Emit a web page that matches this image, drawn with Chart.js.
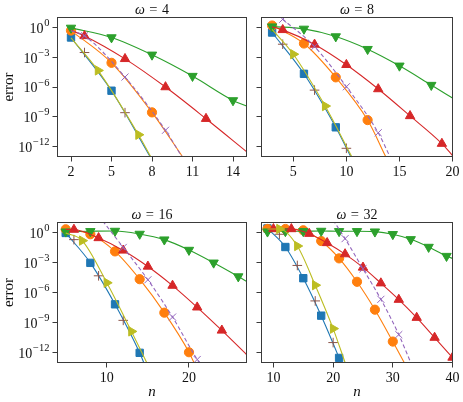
<!DOCTYPE html>
<html>
<head>
<meta charset="utf-8">
<script src="https://cdn.jsdelivr.net/npm/chart.js@4.4.0/dist/chart.umd.min.js"></script>
<style>
  html, body { margin: 0; padding: 0; background: #fff; }
  #wrap { position: relative; width: 463px; height: 402px; }
  #wrap canvas { position: absolute; left: 0; top: 0; }
</style>
</head>
<body>
<div id="wrap">
  <canvas id="c4" width="463" height="402"></canvas>
  <canvas id="c8" width="463" height="402"></canvas>
  <canvas id="c16" width="463" height="402"></canvas>
  <canvas id="c32" width="463" height="402"></canvas>
</div>
<script>
// values are log10(error), as [n, log10 error]
// series order: blue, orange, green, red, purple, brown, olive

// omega = 4
const w4Blue   = [[2, -0.97], [5, -6.35], [7.85, -13]];
const w4Orange = [[2, -0.27], [5, -3.53], [8, -8.54], [10.25, -13]];
const w4Green  = [[2, 0], [5, -0.97], [8, -2.72], [11, -4.87], [14, -7.33], [15, -7.9]];
const w4Red    = [[2, -0.25], [3, -0.81], [6, -3.13], [9, -5.98], [12, -9.18], [15, -12.5]];
const w4Purple = [[2, -0.3], [3, -0.8], [6, -4.97], [9, -10.35], [10.2, -13]];
const w4Brown  = [[3, -2.49], [6, -8.57]];
const w4Olive  = [[2, -1.0], [4, -4.3], [7, -10.8], [7.9, -13]];
const w4Marks  = [[2, 5], [2, 5, 8], [2, 5, 8, 11, 14], [3, 6, 9, 12], [3, 6, 9], [3, 6], [4, 7]];

// omega = 8
const w8Blue   = [[3, -0.47], [6, -4.64], [9, -10.05], [10.4, -13]];
const w8Orange = [[3, 0.24], [6, -1.58], [9, -5.0], [12, -9.32], [13.7, -13]];
const w8Green  = [[3, 0.13], [6, -0.1], [9, -0.87], [12, -2.15], [15, -3.83], [18, -5.78], [20, -7.09]];
const w8Red    = [[3, 0.1], [4, -0.2], [7, -1.68], [10, -3.73], [13, -6.18], [16, -8.9], [19, -11.7], [20, -12.9]];
const w8Purple = [[3.5, 1.3], [4, 0.87], [7, -1.9], [10, -5.95], [13, -10.6], [14.1, -13]];
const w8Brown  = [[4, -1.65], [7, -6.29], [10, -12.17]];
const w8Olive  = [[3, -0.15], [5, -2.66], [8, -7.9], [10.5, -13]];
const w8Marks  = [[3, 6, 9], [3, 6, 9, 12], [3, 6, 9, 12, 15, 18], [4, 7, 10, 13, 16, 19], [4, 7, 10, 13], [4, 7, 10], [5, 8]];

// omega = 16
const w16Blue   = [[5, 0], [8, -3.0], [11, -7.16], [14, -12.03], [14.5, -13]];
const w16Orange = [[5, 0.37], [8, -0.13], [11, -1.85], [14, -4.64], [17, -8.0], [20, -11.97], [20.6, -13]];
const w16Green  = [[5, 0.13], [8, 0.17], [11, 0.2], [14, -0.1], [17, -0.67], [20, -1.71], [23, -2.99], [26, -4.37], [27, -4.85]];
const w16Red    = [[5, 0.35], [6, 0.34], [9, -0.5], [12, -1.75], [15, -3.36], [18, -5.28], [21, -7.46], [24, -9.78], [27, -12.2]];
const w16Purple = [[9.5, 1.2], [12, -1.45], [15, -4.7], [18, -8.44], [21, -12.7], [21.25, -13]];
const w16Brown  = [[6, -0.67], [9, -4.3], [12, -8.77]];
const w16Olive  = [[5, 0], [7, -0.77], [10, -5.0], [13, -9.88], [14.85, -13]];
const w16Marks  = [[5, 8, 11, 14], [5, 8, 11, 14, 17, 20], [5, 8, 11, 14, 17, 20, 23, 26], [6, 9, 12, 15, 18, 21, 24], [12, 15, 18, 21], [6, 9, 12], [7, 10, 13]];

// omega = 32
const w32Blue   = [[9, 0.45], [12, -1.41], [15, -4.54], [18, -8.3], [21, -12.54], [21.3, -13]];
const w32Orange = [[9, 0.4], [12, 0.4], [15, 0.27], [18, -0.81], [21, -2.55], [24, -4.9], [27, -7.7], [30, -10.9], [31.9, -13]];
const w32Green  = [[9, 0.13], [12, 0.17], [15, 0.17], [18, 0.2], [21, 0.17], [24, 0.17], [27, 0.13], [30, -0.13], [33, -0.64], [36, -1.41], [39, -2.32], [40, -2.55]];
const w32Red    = [[9, 0.4], [10, 0.4], [13, 0.4], [16, -0.07], [19, -1.0], [22, -2.12], [25, -3.46], [28, -5.04], [31, -6.69], [34, -8.5], [37, -10.5], [40, -12.5]];
const w32Purple = [[20, 1.3], [22, -0.57], [25, -3.6], [28, -6.66], [31, -10.2], [33, -13]];
const w32Brown  = [[11, -0.13], [14, -3.26], [17, -6.82], [20, -11.0]];
const w32Olive  = [[9, 0.4], [11, 0.4], [14, -1.31], [17, -5.24], [20, -9.6], [22, -13]];
const w32Marks  = [[9, 12, 15, 18, 21], [9, 12, 15, 18, 21, 24, 27, 30], [9, 12, 15, 18, 21, 24, 27, 30, 33, 36, 39], [10, 13, 16, 19, 22, 25, 28, 31, 34, 37, 40], [22, 25, 28, 31], [11, 14, 17, 20], [11, 14, 17, 20]];

// tick labels
const xTicks4 = [2, 5, 8, 11, 14];
const xTicks8 = [5, 10, 15, 20];
const xTicks16 = [10, 20];
const xTicks32 = [10, 20, 30, 40];
const yTickExp = [0, -3, -6, -9, -12];

const SERIF = "'Liberation Serif', 'DejaVu Serif', serif";
const colors = ['#1f77b4', '#ff7f0e', '#2ca02c', '#d62728', '#9467bd', '#8c564b', '#bcbd22'];
const markers = [
  {style: 'rect', r: 5.2},
  {style: 'circle', r: 4.6},
  {style: 'triangle', r: 5.4, rot: 180},
  {style: 'triangle', r: 5.4},
  {style: 'crossRot', r: 5, dash: [4, 2.5]},
  {style: 'cross', r: 4.8, noLine: true},
  {style: 'triangle', r: 5.4, rot: 90}
];

// frame, titles and superscript tick labels
const frame = {
  id: 'frame',
  afterDraw(chart, args, o) {
    const {ctx, chartArea: a} = chart;
    ctx.save();
    ctx.strokeStyle = '#3a3a3a';
    ctx.lineWidth = 1;
    ctx.strokeRect(a.left, a.top, a.right - a.left, a.bottom - a.top);
    ctx.fillStyle = '#111';
    const cx = (a.left + a.right) / 2;

    // title: ω = k, with TeX-like spacing round the equals sign
    const parts = [['italic 14px ', '\u03c9'], ['14.5px ', '='], ['14px ', String(o.omega)]];
    const gap = 4.5;
    const widths = parts.map(p => { ctx.font = p[0] + SERIF; return ctx.measureText(p[1]).width; });
    let x = cx - (widths[0] + widths[1] + widths[2] + 2 * gap) / 2;
    ctx.textAlign = 'left';
    ctx.textBaseline = 'alphabetic';
    parts.forEach((p, i) => {
      ctx.font = p[0] + SERIF;
      ctx.fillText(p[1], x, a.top - 3.5);
      x += widths[i] + gap;
    });

    if (o.yLabels) {
      const ys = chart.scales.y;
      yTickExp.forEach(e => {
        const py = ys.getPixelForValue(Math.pow(10, e));
        const xr = a.left - 8;
        const sup = e === 0 ? '0' : '\u2212' + (-e);
        ctx.textAlign = 'right';
        ctx.font = '10.5px ' + SERIF;
        const ws = ctx.measureText(sup).width;
        ctx.fillText(sup, xr, py - 1.5);
        ctx.font = '14px ' + SERIF;
        ctx.fillText('10', xr - ws - 0.8, py + 5);
      });
      ctx.save();
      ctx.translate(9, (a.top + a.bottom) / 2);
      ctx.rotate(-Math.PI / 2);
      ctx.textAlign = 'center';
      ctx.textBaseline = 'middle';
      ctx.font = '15px ' + SERIF;
      ctx.fillText('error', 0, 0);
      ctx.restore();
    }
    if (o.xTitle) {
      ctx.textAlign = 'center';
      ctx.font = 'italic 15px ' + SERIF;
      ctx.fillText('n', cx, 396);
    }
    ctx.restore();
  }
};

function panel(id, omega, series, marks, xMin, xMax, xTicks, area, yLabels, xTitle) {
  const Y_W = 40, X_H = 24;
  const datasets = series.map((pts, i) => {
    const m = markers[i];
    return {
      data: pts.map(p => ({x: p[0], y: Math.pow(10, p[1])})),
      borderColor: colors[i],
      backgroundColor: colors[i],
      borderWidth: 1.1,
      borderDash: m.dash || [],
      showLine: !m.noLine,
      cubicInterpolationMode: 'monotone',
      pointStyle: m.style,
      pointRotation: m.rot || 0,
      pointRadius: c => (c.raw && marks[i].includes(c.raw.x)) ? m.r : 0,
      pointBorderWidth: 1,
      clip: 0,
      order: 10 - i
    };
  });
  new Chart(document.getElementById(id), {
    type: 'line',
    data: {datasets},
    plugins: [frame],
    options: {
      responsive: false,
      animation: false,
      events: [],
      layout: {
        padding: {left: area.left - Y_W, top: area.top, right: 463 - area.right, bottom: 402 - area.bottom - X_H}
      },
      plugins: {
        legend: {display: false},
        tooltip: {enabled: false},
        frame: {omega, yLabels, xTitle}
      },
      scales: {
        x: {
          type: 'linear',
          min: xMin,
          max: xMax,
          afterBuildTicks: sc => { sc.ticks = xTicks.map(v => ({value: v})); },
          afterFit: sc => { sc.height = X_H; },
          grid: {drawOnChartArea: false, tickLength: 5, color: '#3a3a3a'},
          border: {display: false},
          ticks: {font: {family: SERIF, size: 14}, color: '#111', padding: 2, maxRotation: 0}
        },
        y: {
          type: 'logarithmic',
          min: 1e-13,
          max: Math.pow(10, 1.05),
          afterBuildTicks: sc => { sc.ticks = yTickExp.map(e => ({value: Math.pow(10, e)})); },
          afterFit: sc => { sc.width = Y_W; },
          grid: {drawOnChartArea: false, tickLength: 5, color: '#3a3a3a'},
          border: {display: false},
          ticks: {display: false}
        }
      }
    }
  });
}

panel('c4', 4, [w4Blue, w4Orange, w4Green, w4Red, w4Purple, w4Brown, w4Olive], w4Marks,
  1, 15, xTicks4, {left: 57.5, top: 17.5, right: 246.5, bottom: 156.5}, true, false);
panel('c8', 8, [w8Blue, w8Orange, w8Green, w8Red, w8Purple, w8Brown, w8Olive], w8Marks,
  2, 20, xTicks8, {left: 261.5, top: 17.5, right: 452.5, bottom: 156.5}, false, false);
panel('c16', 16, [w16Blue, w16Orange, w16Green, w16Red, w16Purple, w16Brown, w16Olive], w16Marks,
  4, 27, xTicks16, {left: 57.5, top: 222.5, right: 246.5, bottom: 362.5}, true, true);
panel('c32', 32, [w32Blue, w32Orange, w32Green, w32Red, w32Purple, w32Brown, w32Olive], w32Marks,
  8, 40, xTicks32, {left: 261.5, top: 222.5, right: 452.5, bottom: 362.5}, false, true);
</script>
</body>
</html>
